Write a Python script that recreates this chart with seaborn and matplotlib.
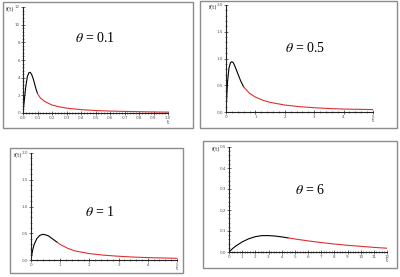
import numpy as np
import pandas as pd
import matplotlib
matplotlib.use('Agg')
import matplotlib.pyplot as plt
import seaborn as sns
from matplotlib.patches import Rectangle
from matplotlib.ticker import MultipleLocator

sns.set_style('white')
plt.rcParams['font.family'] = ['DejaVu Sans']
plt.rcParams['mathtext.fontset'] = 'stix'

# values
# theta = 0.1
t1 = [0, 0.01, 0.02, 0.03, 0.04, 0.05, 0.06, 0.07, 0.08, 0.09, 0.1,
      0.12, 0.15, 0.2, 0.25, 0.3, 0.4, 0.5, 0.6, 0.7, 0.8, 0.9, 1.0]
f1 = [0, 1.6, 3.1, 4.1, 4.55, 4.6, 4.35, 3.9, 3.3, 2.7, 2.2,
      1.7, 1.3, 0.9, 0.7, 0.55, 0.38, 0.28, 0.22, 0.18, 0.15, 0.12, 0.1]
# theta = 0.5
t2 = [0, 0.05, 0.1, 0.15, 0.2, 0.25, 0.3, 0.4, 0.5, 0.6, 0.8,
      1.0, 1.25, 1.5, 2.0, 2.5, 3.0, 3.5, 4.0, 4.5, 5.0]
f2 = [0, 0.55, 0.82, 0.92, 0.94, 0.92, 0.86, 0.72, 0.58, 0.47, 0.35,
      0.28, 0.22, 0.18, 0.13, 0.1, 0.08, 0.065, 0.055, 0.05, 0.045]
# theta = 1
t3 = [0, 0.05, 0.1, 0.2, 0.3, 0.4, 0.5, 0.6, 0.7, 0.8, 0.9,
      1.0, 1.25, 1.5, 2.0, 2.5, 3.0, 3.5, 4.0, 4.5, 5.0]
f3 = [0, 0.17, 0.28, 0.4, 0.46, 0.48, 0.47, 0.45, 0.41, 0.37, 0.33,
      0.29, 0.22, 0.17, 0.12, 0.09, 0.07, 0.055, 0.045, 0.038, 0.032]
# theta = 6
t4 = [0, 0.25, 0.5, 1.0, 1.5, 2.0, 2.5, 3.0, 3.5, 4.0, 4.5,
      5.0, 6.0, 7.0, 8.0, 9.0, 10.0, 11.0, 12.0]
f4 = [0, 0.015, 0.028, 0.048, 0.063, 0.073, 0.078, 0.078, 0.076, 0.072, 0.067,
      0.062, 0.053, 0.045, 0.038, 0.032, 0.027, 0.022, 0.018]

thetas = ['0.1', '0.5', '1', '6']
split_at = [0.1, 0.6, 0.9, 4.5]   # where the curve turns from black to red

W, H = 400, 277
fig = plt.figure(figsize=(W / 100, H / 100), dpi=100)
fig.patch.set_facecolor('white')


def px_box(x0, y0, x1, y1):
    return [x0 / W, 1 - y1 / H, (x1 - x0) / W, (y1 - y0) / H]


frames = [(3, 2, 193, 128), (200, 1, 397, 128), (10, 148, 183, 273), (203, 141, 397, 268)]
axes_px = [(23, 7, 168, 113), (226, 5, 373, 112), (31, 153, 177, 260), (229, 147, 387, 252)]
xlims = [(0, 1.0), (0, 5), (0, 5), (0, 12)]
ylims = [(0, 12), (0, 2.0), (0, 2.0), (0, 0.5)]
xmaj = [0.1, 1, 1, 1]
ymaj = [2, 0.5, 0.5, 0.1]
xfmt = ['{:.1f}', '{:.0f}', '{:.0f}', '{:.0f}']
yfmt = ['{:.0f}', '{:.1f}', '{:.1f}', '{:.1f}']
label_pos = [(95, 38), (305, 48), (100, 212), (310, 190)]

for fr in frames:
    x0, y0, x1, y1 = fr
    fig.patches.append(Rectangle((x0 / W, 1 - y1 / H), (x1 - x0) / W, (y1 - y0) / H,
                                 transform=fig.transFigure, fill=False,
                                 edgecolor='#8c8c8c', linewidth=1.0))

for i, (t, f) in enumerate(zip([t1, t2, t3, t4], [f1, f2, f3, f4])):
    ax = fig.add_axes(px_box(*axes_px[i]))
    ax.set_facecolor('none')
    df = pd.DataFrame({'t': t, 'f': f})
    black = df[df['t'] <= split_at[i]]
    red = df[df['t'] >= split_at[i]]
    sns.lineplot(data=black, x='t', y='f', ax=ax, color='black', linewidth=0.8)
    sns.lineplot(data=red, x='t', y='f', ax=ax, color='#e03030', linewidth=0.8)

    ax.set_xlim(*xlims[i])
    ax.set_ylim(*ylims[i])
    ax.xaxis.set_major_locator(MultipleLocator(xmaj[i]))
    ax.yaxis.set_major_locator(MultipleLocator(ymaj[i]))
    ax.xaxis.set_minor_locator(MultipleLocator(xmaj[i] / 5))
    ax.yaxis.set_minor_locator(MultipleLocator(ymaj[i] / 5))
    ax.set_xticklabels([xfmt[i].format(v) for v in ax.get_xticks()])
    ax.set_yticklabels([yfmt[i].format(v) for v in ax.get_yticks()])
    ax.tick_params(which='major', direction='inout', length=2.5, width=0.5,
                   labelsize=3, pad=1, colors='#333333', labelcolor='#555555')
    ax.tick_params(which='minor', direction='inout', length=1.2, width=0.4,
                   colors='#333333')
    ax.tick_params(left=True, bottom=True, which='both')
    for s in ['top', 'right']:
        ax.spines[s].set_visible(False)
    for s in ['left', 'bottom']:
        ax.spines[s].set_linewidth(0.8)
        ax.spines[s].set_color('#222222')
    ax.set_xlabel('')
    ax.set_ylabel('')

    x0, y0, x1, y1 = axes_px[i]
    fig.text((x0 - 9) / W, 1 - (y0 + 3) / H, 'f(t)', ha='right', va='center',
             fontsize=4, family='DejaVu Serif', color='#333333')
    fig.text(x1 / W, 1 - (y1 + 9) / H, 't', ha='center', va='center',
             fontsize=4, family='DejaVu Serif', color='#333333')

    lx, ly = label_pos[i]
    fig.text(lx / W, 1 - ly / H, r'$\theta$ = ' + thetas[i], ha='center', va='center',
             fontsize=10, family='Liberation Serif', color='black')

fig.savefig('out.png', dpi=100, facecolor='white')
